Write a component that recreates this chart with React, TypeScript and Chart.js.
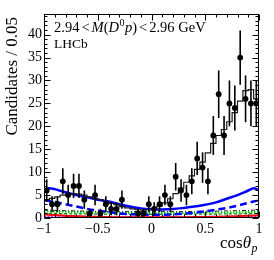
import { useEffect, useRef } from 'react';
import { Chart, registerables } from 'chart.js';

Chart.register(...registerables);

const FONT = "'Liberation Serif', 'Times New Roman', serif";

// Histogram binning of cos(theta_p)
const binLow = -1;
const binWidth = 0.05;

// Data: candidates per bin (40 bins from -1 to 1)
const counts = [6, 3, 3, 8, 5, 7, 7, 4, 1, 5, 1, 3, 2, 2, 4, 0, 0, 1, 1, 3,
  2, 3, 5, 3, 9, 6, 5, 8, 13, 11, 8, 18, 27, 18, 25, 24, 35, 26, 25, 25];
const errors = [2.45, 1.73, 1.73, 2.83, 2.24, 2.65, 2.65, 2, 1, 2.24, 1, 1.73, 1.41, 1.41, 2, 0, 0, 1, 1, 1.73,
  1.41, 1.73, 2.24, 1.73, 3, 2.45, 2.24, 2.83, 3.61, 3.32, 2.83, 4.24, 5.2, 4.24, 5, 4.9, 5.92, 5.1, 5, 5];

// Total fit (histogram)
const fitTotal = [4.0, 4.3, 4.6, 5.0, 5.2, 5.3, 5.2, 5.0, 4.6, 4.3, 4.0, 3.6, 3.2, 2.9, 2.5, 2.2, 2.0, 1.8, 1.7, 1.8,
  2.1, 2.6, 3.3, 4.2, 5.3, 6.5, 7.8, 9.2, 10.6, 12.2, 14.2, 16.3, 18.0, 19.3, 21.0, 23.0, 25.5, 27.8, 28.0, 26.0];

// Component curves
const curveX = [-1, -0.95, -0.9, -0.8, -0.7, -0.6, -0.5, -0.4, -0.3, -0.2, -0.1, 0, 0.1, 0.2, 0.3, 0.4, 0.5, 0.6, 0.7, 0.8, 0.9, 0.95, 1];
const blueSolid = [6.1, 6.5, 6.3, 5.6, 5.0, 4.5, 4.0, 3.6, 3.0, 2.5, 2.1, 1.9, 1.85, 1.95, 2.2, 2.5, 2.9, 3.4, 4.2, 5.0, 6.0, 6.5, 6.1];
const blueDashed = [3.9, 3.7, 3.5, 3.0, 2.5, 2.0, 1.6, 1.3, 1.0, 0.85, 0.75, 0.7, 0.7, 0.8, 0.95, 1.15, 1.45, 1.8, 2.2, 2.7, 3.3, 3.6, 3.8];
const blackDashDot = [1.7, 1.7, 1.65, 1.6, 1.55, 1.5, 1.45, 1.4, 1.4, 1.4, 1.4, 1.4, 1.4, 1.4, 1.4, 1.45, 1.5, 1.5, 1.55, 1.6, 1.65, 1.7, 1.7];
const greenDotted = [1.4, 1.4, 1.4, 1.35, 1.3, 1.25, 1.2, 1.2, 1.15, 1.1, 1.1, 1.1, 1.1, 1.1, 1.1, 1.15, 1.15, 1.2, 1.2, 1.25, 1.3, 1.3, 1.3];
const greenDashed = [1.0, 1.0, 1.0, 0.95, 0.9, 0.9, 0.85, 0.85, 0.85, 0.8, 0.8, 0.8, 0.8, 0.8, 0.8, 0.85, 0.85, 0.85, 0.9, 0.9, 0.95, 0.95, 1.0];
const redSolid = [0.8, 0.72, 0.65, 0.5, 0.4, 0.3, 0.25, 0.2, 0.18, 0.15, 0.15, 0.15, 0.15, 0.15, 0.17, 0.2, 0.22, 0.26, 0.32, 0.4, 0.5, 0.55, 0.6];
const lilacDotted = [0.45, 0.45, 0.42, 0.4, 0.38, 0.36, 0.35, 0.33, 0.32, 0.32, 0.3, 0.3, 0.3, 0.3, 0.32, 0.33, 0.35, 0.36, 0.38, 0.4, 0.42, 0.45, 0.45];
const magentaDotted = [0.1, 0.1, 0.1, 0.08, 0.07, 0.06, 0.05, 0.05, 0.05, 0.05, 0.05, 0.05, 0.05, 0.05, 0.05, 0.05, 0.05, 0.06, 0.07, 0.08, 0.1, 0.1, 0.1];

const xTicks = [-1, -0.5, 0, 0.5, 1];
const yTickStep = 5;
const yMax = 44.5;

const pts = (ys: number[]) => curveX.map((x, i) => ({ x, y: ys[i] }));

function fmtX(v: number) {
  if (v === 0) return '0';
  return v < 0 ? '\u2212' + String(Math.abs(v)) : String(v);
}

const decorPlugin = {
  id: 'decor',
  beforeDatasetDraw(chart: any, args: any) {
    if (args.index !== 0) return;
    const { ctx, chartArea: a, scales } = chart;
    ctx.save();
    ctx.beginPath();
    ctx.rect(a.left, a.top, a.right - a.left, a.bottom - a.top);
    ctx.clip();
    ctx.strokeStyle = '#000';
    ctx.lineWidth = 1.6;
    counts.forEach((c, i) => {
      const e = errors[i];
      if (!e) return;
      const x = scales.x.getPixelForValue(binLow + binWidth * (i + 0.5));
      ctx.beginPath();
      ctx.moveTo(x, scales.y.getPixelForValue(c - e));
      ctx.lineTo(x, scales.y.getPixelForValue(c + e));
      ctx.stroke();
    });
    ctx.restore();
  },
  afterDraw(chart: any) {
    const { ctx, chartArea: a, scales } = chart;
    const xs = scales.x, ys = scales.y;
    ctx.save();
    ctx.strokeStyle = '#000';
    ctx.lineWidth = 1;
    const L = Math.round(a.left) + 0.5, R = Math.round(a.right) - 0.5;
    const T = Math.round(a.top) + 0.5, B = Math.round(a.bottom) - 0.5;
    ctx.strokeRect(L, T, R - L, B - T);
    ctx.beginPath();
    for (let k = 0; k <= 44; k++) {
      const y = Math.round(ys.getPixelForValue(k)) + 0.5;
      const len = k % yTickStep === 0 ? 6 : 3;
      ctx.moveTo(L, y); ctx.lineTo(L + len, y);
      ctx.moveTo(R, y); ctx.lineTo(R - len, y);
    }
    for (let k = -10; k <= 10; k++) {
      const x = Math.round(xs.getPixelForValue(k / 10)) + 0.5;
      const len = k % 5 === 0 ? 6 : 3;
      ctx.moveTo(x, B); ctx.lineTo(x, B - len);
      ctx.moveTo(x, T); ctx.lineTo(x, T + len);
    }
    ctx.stroke();

    // Annotation text
    ctx.fillStyle = '#000';
    ctx.textBaseline = 'alphabetic';
    ctx.textAlign = 'left';
    const pieces: [string, string, number][] = [
      ['2.94', 'normal', 2], ['<', 'normal', 2], ['M', 'italic', 0], ['(', 'normal', 0],
      ['D', 'italic', 0.5], ['0', 'sup', 0.5], ['p', 'italic', 0], [')', 'normal', 2],
      ['<', 'normal', 2], ['2.96 GeV', 'normal', 0],
    ];
    let x = 54;
    const base = 31.5;
    const fs = 14.5;
    for (const [t, style, gap] of pieces) {
      if (style === 'sup') {
        ctx.font = `${fs * 0.7}px ${FONT}`;
        ctx.fillText(t, x, base - 5.5);
      } else {
        ctx.font = `${style === 'italic' ? 'italic ' : ''}${fs}px ${FONT}`;
        ctx.fillText(t, x, base);
      }
      x += ctx.measureText(t).width + gap;
    }
    ctx.font = `13.5px ${FONT}`;
    ctx.fillText('LHCb', 54, 48);

    // y-axis title
    ctx.save();
    ctx.translate(13, 17);
    ctx.rotate(-Math.PI / 2);
    ctx.font = `17px ${FONT}`;
    ctx.textAlign = 'right';
    ctx.textBaseline = 'middle';
    ctx.fillText('Candidates / 0.05', 0, 0);
    ctx.restore();

    // x-axis title
    const tfs = 17;
    let tx = 220;
    const tb = 248;
    ctx.font = `${tfs}px ${FONT}`;
    ctx.fillText('cos', tx, tb);
    tx += ctx.measureText('cos').width;
    ctx.font = `italic ${tfs}px ${FONT}`;
    ctx.fillText('\u03b8', tx, tb);
    tx += ctx.measureText('\u03b8').width + 0.5;
    ctx.font = `italic ${tfs * 0.7}px ${FONT}`;
    ctx.fillText('p', tx, tb + 4);
    ctx.restore();
  },
};

export default function App() {
  const ref = useRef<HTMLCanvasElement | null>(null);
  useEffect(() => {
    document.body.style.margin = '0';
    const canvas = ref.current!;
    const pointData = counts.map((c, i) => ({ x: binLow + binWidth * (i + 0.5), y: c }));
    const histData = fitTotal.map((h, i) => ({ x: binLow + binWidth * i, y: h }));
    histData.push({ x: binLow + binWidth * fitTotal.length, y: fitTotal[fitTotal.length - 1] });

    const curve = (data: number[], color: string, width: number, dash: number[]) => ({
      type: 'line' as const,
      data: pts(data),
      borderColor: color,
      borderWidth: width,
      borderDash: dash,
      pointRadius: 0,
      fill: false,
      cubicInterpolationMode: 'monotone' as const,
      clip: 0,
    });

    const chart = new Chart(canvas, {
      type: 'line',
      data: {
        datasets: [
          {
            type: 'scatter',
            data: pointData,
            showLine: false,
            pointRadius: (c: any) => (c.raw && c.raw.y > 0 ? 2.9 : 0),
            pointBackgroundColor: '#000',
            pointBorderWidth: 0,
            clip: 0,
          } as any,
          {
            type: 'line',
            data: histData,
            stepped: true,
            borderColor: '#1a1a1a',
            borderWidth: 1.2,
            pointRadius: 0,
            fill: false,
            clip: 0,
          } as any,
          curve(blueSolid, '#0000ff', 2.5, []),
          curve(blueDashed, '#0000ff', 2.5, [7, 4]),
          curve(blackDashDot, '#222222', 1, [4, 2, 1, 2]),
          curve(greenDotted, '#00cc00', 2, [1.5, 1.5]),
          curve(greenDashed, '#008800', 1.2, [3, 2]),
          curve(redSolid, '#ff0000', 2, []),
          curve(lilacDotted, '#8888ff', 1.5, [1, 1.5]),
          curve(magentaDotted, '#ff00ff', 3, [2, 1.5]),
        ],
      },
      options: {
        animation: false,
        responsive: false,
        devicePixelRatio: 1,
        layout: { padding: { top: 14, right: 15, left: 0, bottom: 0 } },
        plugins: { legend: { display: false }, tooltip: { enabled: false } },
        scales: {
          x: {
            type: 'linear',
            min: -1,
            max: 1,
            grid: { display: false, drawTicks: false },
            border: { display: false },
            afterBuildTicks: (s: any) => { s.ticks = xTicks.map((v) => ({ value: v })); },
            afterFit: (s: any) => { s.height = 42; },
            ticks: {
              autoSkip: false,
              maxRotation: 0,
              padding: 3,
              color: '#000',
              font: { family: FONT, size: 14 },
              callback: (v: any) => fmtX(Number(v)),
            },
          },
          y: {
            type: 'linear',
            min: 0,
            max: yMax,
            grid: { display: false, drawTicks: false },
            border: { display: false },
            afterFit: (s: any) => { s.width = 44; },
            ticks: {
              stepSize: yTickStep,
              includeBounds: false,
              autoSkip: false,
              padding: 2,
              color: '#000',
              font: { family: FONT, size: 14 },
            },
          },
        },
      },
      plugins: [decorPlugin],
    } as any);
    return () => chart.destroy();
  }, []);
  return (
    <div style={{ width: 274, height: 260 }}>
      <canvas ref={ref} width={274} height={260} style={{ display: 'block' }} />
    </div>
  );
}
